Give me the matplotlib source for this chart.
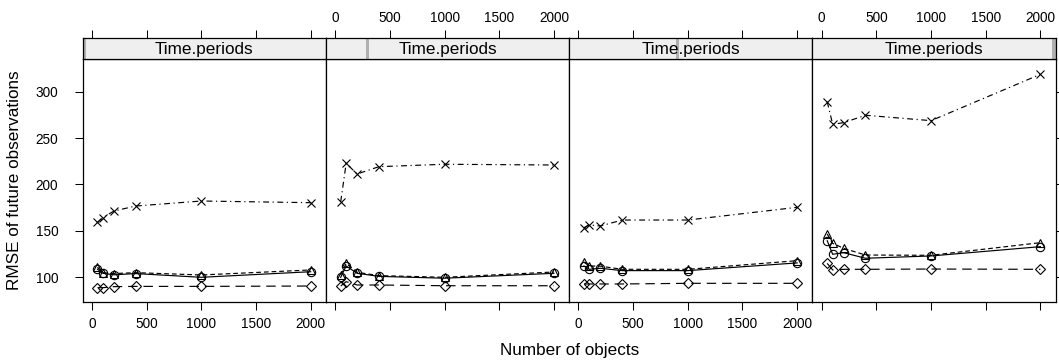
import matplotlib.pyplot as plt
from matplotlib.patches import Rectangle

plt.rcParams['font.family'] = ['Liberation Sans', 'DejaVu Sans']

# x values (number of objects) and panel conditioning values
n_objects = [50, 100, 200, 400, 1000, 2000]
time_periods = [2, 5, 10, 20]

# RMSE of future observations, one row per panel
rmse_circle = [
    [108.7, 104.3, 102.7, 104.0, 100.0, 106.0],
    [100.0, 112.2, 104.3, 101.0, 99.0, 104.3],
    [112.2, 108.6, 109.7, 107.2, 107.2, 115.5],
    [139.4, 124.8, 126.5, 120.5, 123.0, 133.0],
]
rmse_triangle = [
    [110.8, 105.0, 104.0, 105.0, 102.5, 107.9],
    [102.5, 115.0, 105.4, 101.8, 100.0, 105.7],
    [116.2, 112.2, 112.0, 108.6, 108.6, 117.9],
    [146.7, 136.6, 131.2, 124.0, 123.7, 137.3],
]
rmse_diamond = [
    [88.8, 88.8, 89.9, 90.2, 90.2, 90.6],
    [90.6, 95.3, 91.7, 91.7, 90.9, 90.9],
    [92.8, 92.8, 92.8, 92.8, 93.5, 93.5],
    [115.0, 107.9, 108.6, 108.6, 108.9, 108.6],
]
rmse_cross = [
    [159.3, 164.2, 171.4, 176.8, 182.2, 180.4],
    [181.5, 222.8, 211.3, 219.2, 221.8, 221.0],
    [153.5, 156.4, 155.3, 161.7, 161.7, 175.4],
    [289.2, 264.9, 266.6, 274.6, 268.8, 318.7],
]

series = [
    (rmse_circle, 'o', '-'),
    (rmse_triangle, '^', (0, (4, 2.5))),
    (rmse_diamond, 'D', (0, (8, 5))),
    (rmse_cross, 'x', (0, (5, 3, 1, 3))),
]

W, H = 1059, 364
fig = plt.figure(figsize=(W / 100, H / 100), dpi=100)

left0, right_end = 82.7, 1055.7
pw = (right_end - left0) / 4
top, bottom, strip_top = 59.3, 301.7, 38.3
tick_len = 5.6
tp_min, tp_max = min(time_periods), max(time_periods)

for i in range(4):
    l = left0 + i * pw
    ax = fig.add_axes([l / W, (H - bottom) / H, pw / W, (bottom - top) / H])
    sax = fig.add_axes([l / W, (H - top) / H, pw / W, (top - strip_top) / H])

    for data, mk, ls in series:
        ax.plot(n_objects, data[i], color='black', lw=0.85, ls=ls,
                marker=mk, ms=6 if mk != 'D' else 4.6, mfc='none', mec='black', mew=0.8)

    ax.set_xlim(-85, 2140)
    ax.set_ylim(73.7, 334.9)
    ax.set_xticks([0, 500, 1000, 1500, 2000])
    ax.set_yticks([100, 150, 200, 250, 300])
    ax.tick_params(axis='both', direction='out', length=tick_len, width=0.75,
                   labelsize=9.8, top=False)
    ax.tick_params(axis='x', labelbottom=(i % 2 == 0), pad=5.5)
    ax.tick_params(axis='y', left=(i == 0), labelleft=(i == 0),
                   right=(i == 3), labelright=False, pad=12)
    for sp in ax.spines.values():
        sp.set_linewidth(0.9)

    # strip on top of each panel
    sax.set_xlim(-85, 2140)
    sax.set_ylim(0, 1)
    sax.set_facecolor('#efefef')
    sax.set_yticks([])
    sax.set_xticks([0, 500, 1000, 1500, 2000])
    sax.tick_params(axis='x', direction='out', length=tick_len, width=0.75,
                    labelsize=9.8, pad=4, bottom=False, labelbottom=False,
                    top=True, labeltop=(i % 2 == 1))
    for sp in sax.spines.values():
        sp.set_linewidth(0.9)
    w = 3.5 / pw
    f = (time_periods[i] - tp_min) / (tp_max - tp_min)
    sax.add_patch(Rectangle((f * (1 - w), 0), w, 1, transform=sax.transAxes,
                            color='#b0b0b0', lw=0, zorder=1))
    sax.text(0.5, 0.47, 'Time.periods', transform=sax.transAxes,
             ha='center', va='center', fontsize=12.3, zorder=3)

fig.text(15 / W, 1 - (top + bottom) / 2 / H, 'RMSE of future observations',
         rotation=90, ha='center', va='center', fontsize=12.3)
fig.text((left0 + right_end) / 2 / W, 1 - 350 / H, 'Number of objects',
         ha='center', va='center', fontsize=12.3)

fig.savefig('out.png', dpi=100)
